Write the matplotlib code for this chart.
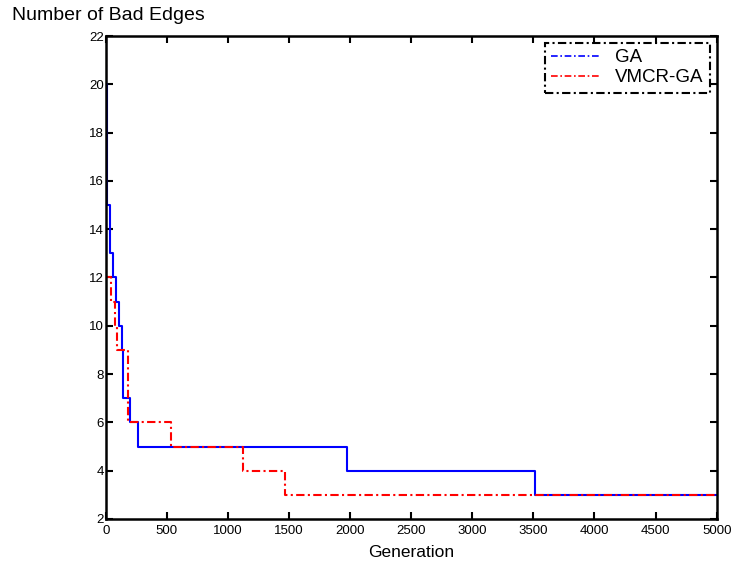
import numpy as np
import matplotlib
matplotlib.use('Agg')
import matplotlib.pyplot as plt
from matplotlib.lines import Line2D

plt.rcParams['font.family'] = ['Liberation Sans', 'DejaVu Sans']

# step data (generation, bad edges)
ga_gen = [0, 3, 8, 38, 60, 84, 111, 131, 144, 200, 262, 1978, 3510, 5000]
ga_val = [22, 20, 15, 13, 12, 11, 10, 9, 7, 6, 5, 4, 3, 3]
vm_gen = [0, 3, 41, 76, 90, 180, 534, 1121, 1470, 5000]
vm_val = [22, 12, 11, 10, 9, 6, 5, 4, 3, 3]

xticks = np.arange(0, 5001, 500)
yticks = np.arange(2, 23, 2)

dashdot = (0, (4, 1.6, 1, 1.6))

fig = plt.figure(figsize=(7.34, 5.68), dpi=100)
ax = fig.add_axes([0.144, 0.0863, 0.8324, 0.8503])

ax.plot(ga_gen, ga_val, color='blue', lw=1.5, drawstyle='steps-post')
ax.plot(vm_gen, vm_val, color='red', lw=1.5, drawstyle='steps-post',
        linestyle=dashdot)

ax.set_xlim(0, 5000)
ax.set_ylim(2, 22)
ax.set_xticks(xticks)
ax.set_yticks(yticks)
ax.tick_params(direction='in', top=True, right=True, length=5, width=1.5,
               labelsize=9.5)
ax.tick_params(axis='x', pad=4)
ax.tick_params(axis='y', pad=1.5)
for s in ax.spines.values():
    s.set_linewidth(1.8)

ax.set_xlabel('Generation', fontsize=12.5, labelpad=6)
fig.text(12 / 734, 1 - 16 / 568, 'Number of Bad Edges', fontsize=14,
         ha='left', va='center')

handles = [Line2D([], [], color='blue', lw=1.2, linestyle=dashdot),
           Line2D([], [], color='red', lw=1.2, linestyle=dashdot)]
leg = ax.legend(handles, ['GA', 'VMCR-GA'], loc='upper right', fontsize=13.5,
                fancybox=False, framealpha=1, borderaxespad=0.35,
                handlelength=2.6, handletextpad=0.8, labelspacing=0.15,
                borderpad=0.35)
fr = leg.get_frame()
fr.set_edgecolor('black')
fr.set_linestyle(dashdot)
fr.set_linewidth(1.5)

fig.savefig('out.png', dpi=100)
